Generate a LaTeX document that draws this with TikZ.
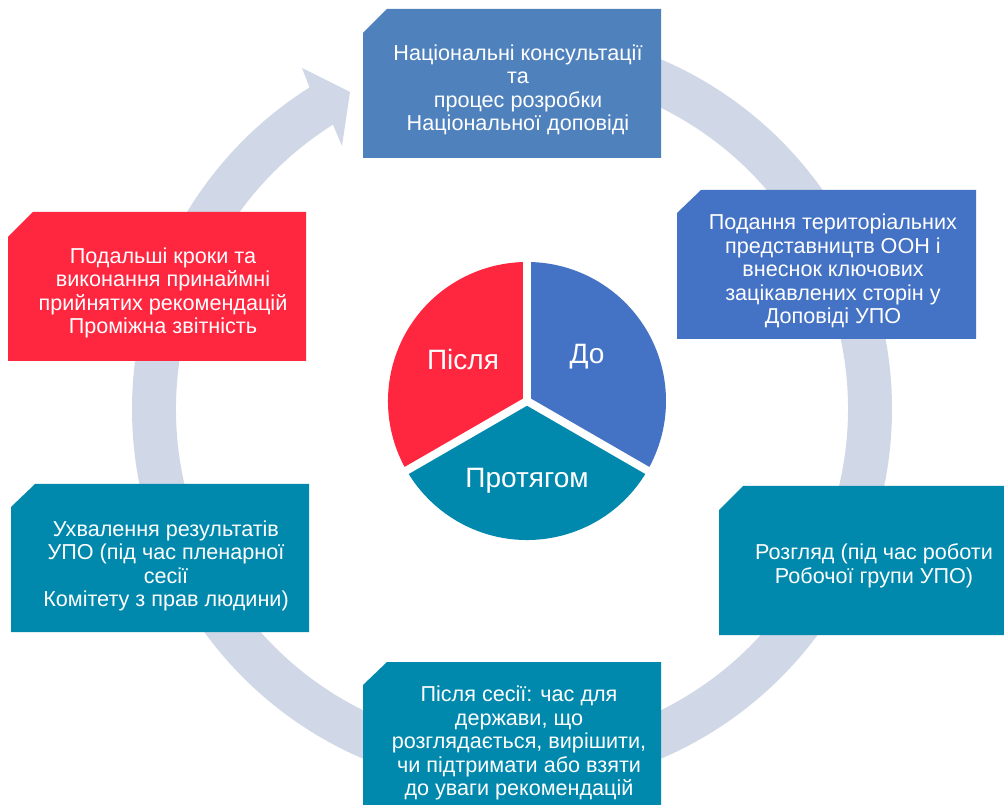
\documentclass[tikz,border=0pt]{standalone}
\usepackage{fontspec}
\setmainfont{Liberation Sans}
\definecolor{ringc}{HTML}{D0D7E6}
\definecolor{topblue}{HTML}{4F81BD}
\definecolor{midblue}{HTML}{4472C4}
\definecolor{tealc}{HTML}{0089AD}
\definecolor{redc}{HTML}{FF2640}
\begin{document}
\begin{tikzpicture}[x=0.75pt,y=-0.75pt,
  txt/.style={text=white, align=center, inner sep=0pt, font=\fontsize{16.2}{17.6}\selectfont},
  pielbl/.style={text=white, inner sep=0pt, font=\fontsize{21}{24}\selectfont},
  sep/.style={white, line width=6pt}]
\useasboundingbox (0,0) rectangle (1004,805);
% ring with arrow
\coordinate (rc) at (512,409);
\fill[ringc] ([shift={(rc)}]-90:380) arc[start angle=-90, end angle=237.8, radius=380]
  -- (302,68) -- (350,92) -- (342,146)
  -- ([shift={(rc)}]237.8:336) arc[start angle=237.8, end angle=-90, radius=336] -- cycle;
% boxes
\fill[topblue] (363,33) -- (387,9) -- (661,9) -- (661,158) -- (363,158) -- cycle;
\node[txt] (t1) at (518,90) {Національні консультації\\та\\процес розробки\\Національної доповіді};
\fill[midblue] (677,213) -- (701,190) -- (976,190) -- (976,339) -- (677,339) -- cycle;
\node[txt] (t2) at (833,271) {Подання територіальних\\представництв ООН і\\внеснок ключових\\зацікавлених сторін у\\Доповіді УПО};
\fill[tealc] (719,510) -- (743,486) -- (1004,486) -- (1004,635) -- (719,635) -- cycle;
\node[txt] (t3) at (874,566) {Розгляд (під час роботи\\Робочої групи УПО)};
\fill[tealc] (363,685) -- (387,662) -- (661,662) -- (661,805) -- (363,805) -- cycle;
\node[txt] (t4) at (519,743) {Після сесії: час для\\держави, що\\розглядається, вирішити,\\чи підтримати або взяти\\до уваги рекомендацій};
\fill[tealc] (11,507) -- (35,484) -- (309,484) -- (309,632) -- (11,632) -- cycle;
\node[txt] (t5) at (166,566) {Ухвалення результатів\\УПО (під час пленарної\\сесії\\Комітету з прав людини)};
\fill[redc] (8,237) -- (33,212) -- (306,212) -- (306,361) -- (8,361) -- cycle;
\node[txt] (t6) at (163,293) {Подальші кроки та\\виконання принаймні\\прийнятих рекомендацій\\Проміжна звітність};
% pie
\coordinate (pc) at (527,401);
\fill[midblue] (pc) -- ([shift={(pc)}]-90:139) arc[start angle=-90, end angle=30, radius=139] -- cycle;
\fill[tealc] (pc) -- ([shift={(pc)}]30:139) arc[start angle=30, end angle=150, radius=139] -- cycle;
\fill[redc] (pc) -- ([shift={(pc)}]150:139) arc[start angle=150, end angle=270, radius=139] -- cycle;
\draw[sep] (pc) -- ([shift={(pc)}]-90:145);
\draw[sep] (pc) -- ([shift={(pc)}]30:145);
\draw[sep] (pc) -- ([shift={(pc)}]150:145);
\node[pielbl] (p1) at (463,359) {Після};
\node[pielbl] (p2) at (587,357) {До};
\node[pielbl] (p3) at (527,481) {Протягом};
\end{tikzpicture}
\end{document}
